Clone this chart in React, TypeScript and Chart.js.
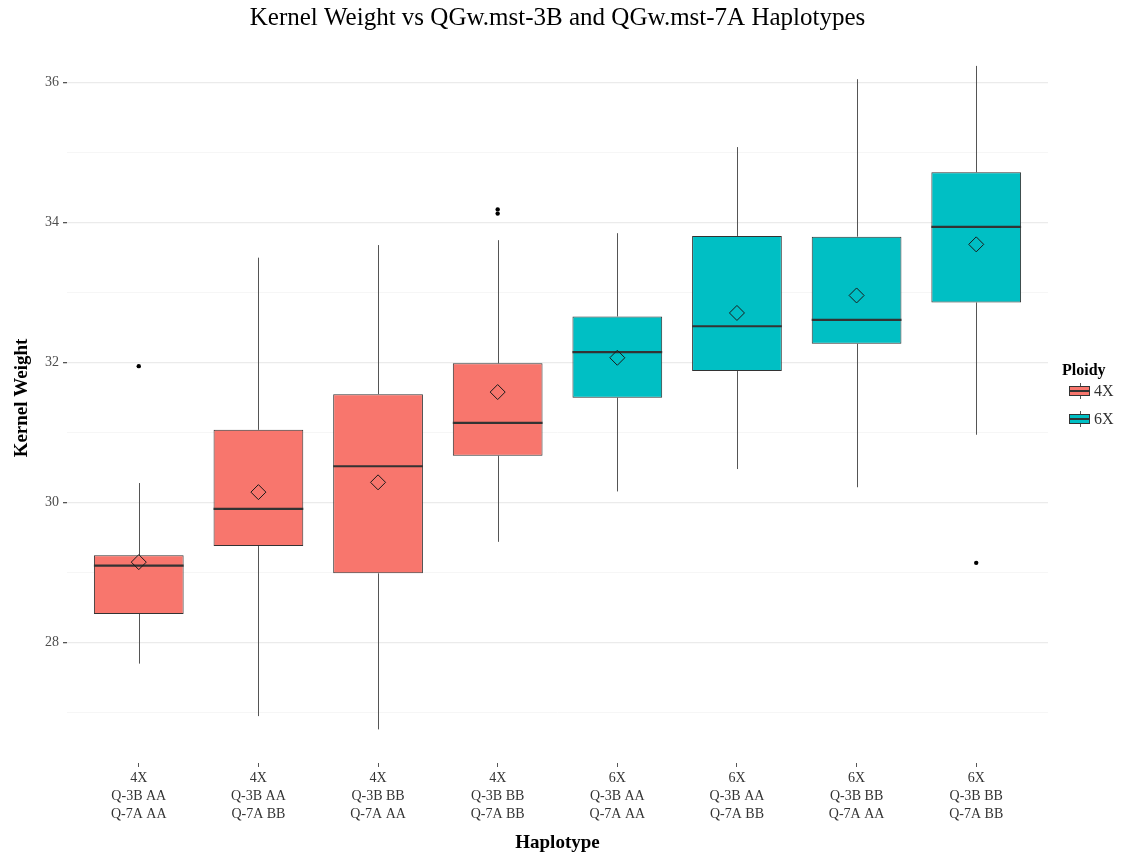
import React, { useEffect, useRef } from "react";
import { Chart, registerables } from "chart.js";

Chart.register(...registerables);

// ---------- data ----------
const categoryLabels: string[][] = [
  ["4X", "Q-3B AA", "Q-7A AA"],
  ["4X", "Q-3B AA", "Q-7A BB"],
  ["4X", "Q-3B BB", "Q-7A AA"],
  ["4X", "Q-3B BB", "Q-7A BB"],
  ["6X", "Q-3B AA", "Q-7A AA"],
  ["6X", "Q-3B AA", "Q-7A BB"],
  ["6X", "Q-3B BB", "Q-7A AA"],
  ["6X", "Q-3B BB", "Q-7A BB"],
];
const ploidy = ["4X", "4X", "4X", "4X", "6X", "6X", "6X", "6X"];
const ploidyLevels = ["4X", "6X"];
const ploidyColors = ["#F8766D", "#00BFC4"];

const whiskerLow = [27.7, 26.95, 26.76, 29.44, 30.16, 30.48, 30.22, 30.97];
const q1 = [28.41, 29.38, 28.99, 30.67, 31.5, 31.88, 32.27, 32.86];
const medians = [29.1, 29.91, 30.52, 31.14, 32.15, 32.52, 32.61, 33.94];
const q3 = [29.25, 31.04, 31.55, 31.99, 32.66, 33.81, 33.8, 34.72];
const whiskerHigh = [30.28, 33.5, 33.68, 33.75, 33.85, 35.08, 36.05, 36.24];
const means = [29.15, 30.15, 30.29, 31.58, 32.07, 32.71, 32.96, 33.69];
const outlierGroup = [0, 3, 3, 7];
const outlierValue = [31.95, 34.19, 34.13, 29.14];

const yMajorTicks = [28, 30, 32, 34, 36];
const yAllTicks = [27, 28, 29, 30, 31, 32, 33, 34, 35, 36];

const titleText = "Kernel Weight vs QGw.mst-3B and QGw.mst-7A Haplotypes";
const xTitle = "Haplotype";
const yTitle = "Kernel Weight";
const legendTitle = "Ploidy";

const FONT = "'Liberation Serif', 'Times New Roman', serif";

const colorFor = (i: number) => ploidyColors[ploidyLevels.indexOf(ploidy[i])];

const boxPartsPlugin = {
  id: "boxParts",
  afterDatasetDraw(chart: any, args: any) {
    if (args.index !== 0) return;
    const { ctx } = chart;
    const x = chart.scales.x;
    const y = chart.scales.y;
    const meta = chart.getDatasetMeta(0);
    ctx.save();
    meta.data.forEach((bar: any, i: number) => {
      const props = bar.getProps(["x", "width"], true);
      const cx = Math.round(x.getPixelForValue(i)) + 0.5;
      const half = props.width / 2;
      ctx.strokeStyle = "#555555";
      ctx.lineWidth = 1;
      ctx.beginPath();
      ctx.moveTo(cx, y.getPixelForValue(q3[i]));
      ctx.lineTo(cx, y.getPixelForValue(whiskerHigh[i]));
      ctx.moveTo(cx, y.getPixelForValue(q1[i]));
      ctx.lineTo(cx, y.getPixelForValue(whiskerLow[i]));
      ctx.stroke();
      ctx.strokeStyle = "#333333";
      ctx.lineWidth = 2.2;
      ctx.beginPath();
      const my = y.getPixelForValue(medians[i]);
      ctx.moveTo(props.x - half, my);
      ctx.lineTo(props.x + half, my);
      ctx.stroke();
    });
    ctx.restore();
  },
};

const legendPlugin = {
  id: "ploidyLegend",
  afterDraw(chart: any) {
    const { ctx, chartArea } = chart;
    const left = chartArea.right + 21;
    const cy0 = (chartArea.top + chartArea.bottom) / 2;
    ctx.save();
    ctx.textBaseline = "middle";
    ctx.textAlign = "left";
    ctx.fillStyle = "#000000";
    ctx.font = `bold 16px ${FONT}`;
    ctx.fillText(legendTitle, left - 7, cy0 - 27);
    ploidyLevels.forEach((lvl, k) => {
      const cy = cy0 - 7 + k * 28;
      const bx = left;
      const bw = 21;
      const cx = Math.round(bx + bw / 2) + 0.5;
      ctx.strokeStyle = "#555555";
      ctx.lineWidth = 1;
      ctx.beginPath();
      ctx.moveTo(cx, cy - 8);
      ctx.lineTo(cx, cy + 8);
      ctx.stroke();
      ctx.fillStyle = ploidyColors[k];
      ctx.fillRect(bx, cy - 4.5, bw, 9);
      ctx.strokeStyle = "#333333";
      ctx.strokeRect(bx + 0.5, cy - 4.5, bw - 1, 9);
      ctx.lineWidth = 2;
      ctx.beginPath();
      ctx.moveTo(bx, cy);
      ctx.lineTo(bx + bw, cy);
      ctx.stroke();
      ctx.fillStyle = "#333333";
      ctx.font = `16px ${FONT}`;
      ctx.fillText(lvl, bx + bw + 4, cy + 1);
    });
    ctx.restore();
  },
};

export default function App() {
  const canvasRef = useRef<HTMLCanvasElement | null>(null);

  useEffect(() => {
    if (!canvasRef.current) return;
    const chart = new Chart(canvasRef.current, {
      type: "bar",
      data: {
        datasets: [
          {
            type: "bar",
            label: "boxes",
            data: q1.map((lo, i) => ({ x: i, y: [lo, q3[i]] })) as any,
            backgroundColor: q1.map((_, i) => colorFor(i)),
            borderColor: "#333333",
            borderWidth: 1,
            borderSkipped: false,
            barPercentage: 0.75,
            categoryPercentage: 1.0,
            order: 3,
          } as any,
          {
            type: "scatter",
            label: "outliers",
            data: outlierGroup.map((g, k) => ({ x: g, y: outlierValue[k] })),
            pointStyle: "circle",
            radius: 2.2,
            backgroundColor: "#000000",
            borderColor: "#000000",
            borderWidth: 0,
            order: 2,
          } as any,
          {
            type: "scatter",
            label: "means",
            data: means.map((m, i) => ({ x: i, y: m })),
            pointStyle: "rectRot",
            radius: 7.5,
            backgroundColor: "rgba(0,0,0,0)",
            borderColor: "#1a1a1a",
            borderWidth: 1,
            order: 1,
          } as any,
        ],
      },
      options: {
        animation: false,
        responsive: false,
        events: [],
        layout: { padding: { left: 0, right: 76, top: 0, bottom: 0 } },
        plugins: {
          legend: { display: false },
          tooltip: { enabled: false },
          title: {
            display: true,
            text: titleText,
            fullSize: false,
            color: "#000000",
            font: { family: FONT, size: 25, weight: "normal", lineHeight: 1.1 },
            padding: { top: 5, bottom: 0.5 },
          },
        },
        scales: {
          x: {
            type: "linear",
            min: -0.6,
            max: 7.6,
            offset: false,
            afterBuildTicks: (s: any) => {
              s.ticks = categoryLabels.map((_, i) => ({ value: i }));
            },
            afterFit: (s: any) => {
              s.height = 94;
            },
            ticks: {
              autoSkip: false,
              maxRotation: 0,
              minRotation: 0,
              color: "#333333",
              padding: 2,
              font: { family: FONT, size: 14, lineHeight: 1.3 },
              callback: (v: any) => categoryLabels[Math.round(Number(v))] as any,
            },
            grid: {
              offset: false,
              drawOnChartArea: false,
              drawTicks: true,
              tickLength: 4,
              tickColor: "#555555",
            },
            border: { display: false },
            title: {
              display: true,
              text: xTitle,
              color: "#000000",
              font: { family: FONT, size: 19, weight: "bold", lineHeight: 1.2 },
              padding: { top: 0, bottom: 3 },
            },
          } as any,
          y: {
            type: "linear",
            min: 26.28,
            max: 36.71,
            afterBuildTicks: (s: any) => {
              s.ticks = yAllTicks.map((v) => ({ value: v }));
            },
            afterFit: (s: any) => {
              s.width = 67;
            },
            ticks: {
              color: "#4d4d4d",
              padding: 4,
              font: { family: FONT, size: 14 },
              callback: (v: any) => (yMajorTicks.includes(Number(v)) ? String(v) : ""),
            },
            grid: {
              color: (c: any) =>
                c.tick && yMajorTicks.includes(c.tick.value) ? "#EBEBEB" : "#F6F6F6",
              lineWidth: (c: any) =>
                c.tick && yMajorTicks.includes(c.tick.value) ? 1.3 : 1,
              tickColor: (c: any) =>
                c.tick && yMajorTicks.includes(c.tick.value) ? "#555555" : "rgba(0,0,0,0)",
              tickLength: 4,
            },
            border: { display: false },
            title: {
              display: true,
              text: yTitle,
              color: "#000000",
              font: { family: FONT, size: 19, weight: "bold", lineHeight: 1.2 },
              padding: { top: 11, bottom: 0 },
            },
          } as any,
        },
      } as any,
      plugins: [boxPartsPlugin, legendPlugin],
    });
    return () => chart.destroy();
  }, []);

  return (
    <div
      style={{
        position: "absolute",
        left: 0,
        top: 0,
        width: 1124,
        height: 857,
        background: "#ffffff",
      }}
    >
      <canvas ref={canvasRef} width={1124} height={857} style={{ display: "block" }} />
    </div>
  );
}
